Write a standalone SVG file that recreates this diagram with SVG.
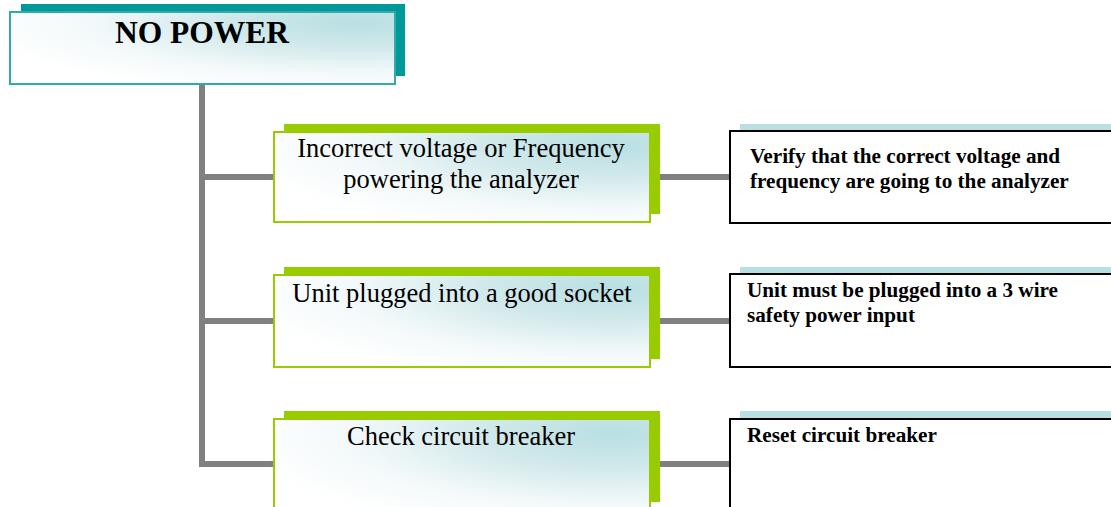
<svg xmlns="http://www.w3.org/2000/svg" width="1111" height="507" viewBox="0 0 1111 507">
<style>
.conn{stroke:#808080;stroke-width:6;fill:none}
.tshadow{fill:#009999}
.tbox{fill:url(#grad);stroke:#33aaaa;stroke-width:2}
.gshadow{fill:#99cc00}
.gbox{fill:url(#grad);stroke:#99cc00;stroke-width:2}
.rshadow{fill:#b8dfe2}
.rbox{fill:#ffffff;stroke:#000000;stroke-width:2}
.t1{font-family:"Liberation Serif","Times New Roman",serif;font-weight:bold;font-size:31.5px;fill:#000}
.t2{font-family:"Liberation Serif","Times New Roman",serif;font-size:26.5px;fill:#000}
.t3{font-family:"Liberation Serif","Times New Roman",serif;font-weight:bold;font-size:21.2px;fill:#000}
</style>
<defs>
<radialGradient id="grad" cx="0.9" cy="0.15" r="1.0" fx="0.9" fy="0.15">
<stop offset="0" stop-color="#b8dfe2"/>
<stop offset="0.35" stop-color="#d2e9eb"/>
<stop offset="0.7" stop-color="#f3f9fa"/>
<stop offset="1" stop-color="#ffffff"/>
</radialGradient>
</defs>
<g id="connectors">
<polyline class="conn" points="202,84 202,464 273,464"/>
<line class="conn" x1="202" y1="177" x2="273" y2="177"/>
<line class="conn" x1="202" y1="321" x2="273" y2="321"/>
<line class="conn" x1="650" y1="177" x2="729" y2="177"/>
<line class="conn" x1="650" y1="321" x2="729" y2="321"/>
<line class="conn" x1="650" y1="464" x2="729" y2="464"/>
</g>
<g id="node-no-power">
<rect class="tshadow" x="21" y="4" width="384" height="72"/>
<rect class="tbox" x="10" y="12" width="385" height="72"/>
<text class="t1" x="202" y="43" text-anchor="middle">NO POWER</text>
</g>
<g id="node-voltage">
<rect class="gshadow" x="284" y="124" width="376" height="90"/>
<rect class="gbox" x="274" y="132" width="376" height="90"/>
<text class="t2" x="461" y="157" text-anchor="middle">Incorrect voltage or Frequency</text>
<text class="t2" x="461" y="188" text-anchor="middle">powering the analyzer</text>
</g>
<g id="node-socket">
<rect class="gshadow" x="284" y="267" width="376" height="92"/>
<rect class="gbox" x="274" y="275" width="376" height="92"/>
<text class="t2" x="462" y="302" text-anchor="middle">Unit plugged into a good socket</text>
</g>
<g id="node-breaker">
<rect class="gshadow" x="284" y="411" width="376" height="91"/>
<rect class="gbox" x="274" y="419" width="376" height="100"/>
<text class="t2" x="461" y="445" text-anchor="middle">Check circuit breaker</text>
</g>
<g id="node-verify">
<rect class="rshadow" x="740" y="124" width="380" height="90"/>
<rect class="rbox" x="730" y="131" width="390" height="92"/>
<text class="t3" x="750" y="163">Verify that the correct voltage and</text>
<text class="t3" x="750" y="188">frequency are going to the analyzer</text>
</g>
<g id="node-3wire">
<rect class="rshadow" x="740" y="267" width="380" height="90"/>
<rect class="rbox" x="730" y="274" width="390" height="93"/>
<text class="t3" x="747" y="297">Unit must be plugged into a 3 wire</text>
<text class="t3" x="747" y="322">safety power input</text>
</g>
<g id="node-reset">
<rect class="rshadow" x="740" y="411" width="380" height="90"/>
<rect class="rbox" x="730" y="419" width="390" height="100"/>
<text class="t3" x="747" y="442">Reset circuit breaker</text>
</g>
</svg>
